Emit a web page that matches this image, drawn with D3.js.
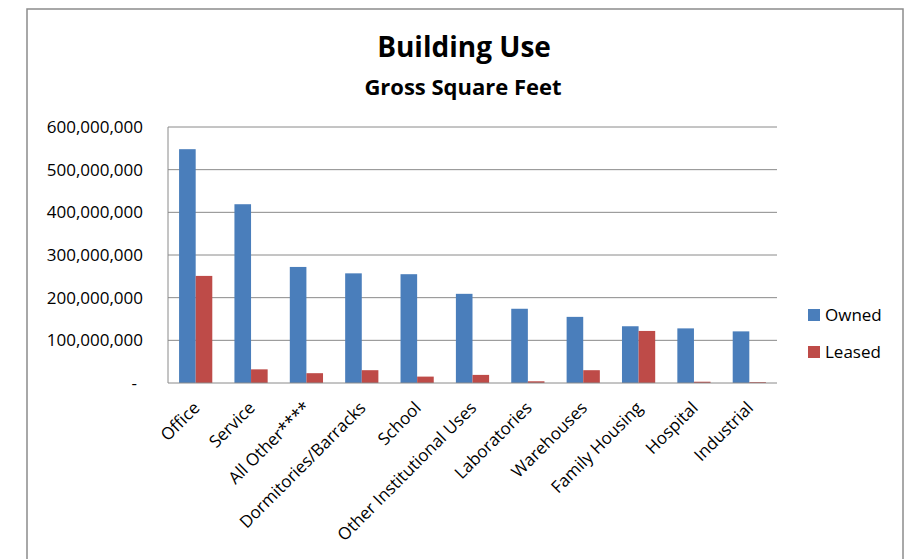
<!DOCTYPE html>
<html>
<head>
<meta charset="utf-8">
<script src="https://cdn.jsdelivr.net/npm/d3@7"></script>
<style>
  body { margin: 0; background: #fff; }
  svg { display: block; font-family: "Open Sans", sans-serif; }
</style>
</head>
<body>
<div id="root"></div>
<script>
// categories and series values (gross square feet)
const categories = ["Office", "Service", "All Other****", "Dormitories/Barracks", "School",
  "Other Institutional Uses", "Laboratories", "Warehouses", "Family Housing", "Hospital", "Industrial"];
const owned = [548e6, 419e6, 272e6, 257e6, 255e6, 209e6, 174e6, 155e6, 133e6, 128e6, 121e6];
const leased = [251e6, 32e6, 23e6, 30e6, 15e6, 19e6, 4e6, 30e6, 122e6, 3e6, 2e6];
const seriesNames = ["Owned", "Leased"];
const yTicks = [0, 100e6, 200e6, 300e6, 400e6, 500e6, 600e6];

const colors = { Owned: "#4a7ebb", Leased: "#be4b48" };

const W = 909, H = 559;
const plot = { left: 168, right: 777, top: 127, bottom: 383 };

const svg = d3.select("#root").append("svg")
    .attr("width", W)
    .attr("height", H);

// outer chart border
svg.append("rect")
    .attr("x", 27).attr("y", 9)
    .attr("width", 876).attr("height", 570)
    .attr("fill", "none")
    .attr("stroke", "#8c8c8c")
    .attr("stroke-width", 1.5);

// titles
svg.append("text")
    .attr("x", 464).attr("y", 57)
    .attr("text-anchor", "middle")
    .attr("font-weight", "bold")
    .attr("font-size", 28)
    .text("Building Use");

svg.append("text")
    .attr("x", 463).attr("y", 95)
    .attr("text-anchor", "middle")
    .attr("font-weight", "bold")
    .attr("font-size", 22)
    .text("Gross Square Feet");

// scales
const x = d3.scaleBand()
    .domain(categories)
    .range([plot.left, plot.right])
    .paddingInner(0.4)
    .paddingOuter(0.2);

const xInner = d3.scaleBand()
    .domain(seriesNames)
    .range([0, x.bandwidth()]);

const y = d3.scaleLinear()
    .domain([0, 600e6])
    .range([plot.bottom, plot.top]);

// gridlines
svg.append("g")
    .selectAll("line")
    .data(yTicks.filter(d => d > 0))
    .join("line")
    .attr("x1", plot.left).attr("x2", plot.right)
    .attr("y1", d => y(d)).attr("y2", d => y(d))
    .attr("stroke", "#8a8a8a")
    .attr("stroke-width", 1);

// y axis labels
const fmt = d3.format(",");
const yAxis = d3.axisLeft(y)
    .tickValues(yTicks)
    .tickSize(0)
    .tickPadding(25)
    .tickFormat(d => d === 0 ? "-" : fmt(d));

const yG = svg.append("g")
    .attr("transform", `translate(${plot.left},0)`)
    .call(yAxis);
yG.select(".domain").remove();
yG.selectAll("text")
    .attr("font-family", "Open Sans, sans-serif")
    .attr("font-size", 17)
    .attr("fill", "#000")
    .attr("dx", d => d === 0 ? -6 : 0);

// bars
const rows = categories.map((c, i) => ({ cat: c, Owned: owned[i], Leased: leased[i] }));

svg.append("g")
    .selectAll("g")
    .data(rows)
    .join("g")
    .attr("transform", d => `translate(${x(d.cat)},0)`)
    .selectAll("rect")
    .data(d => seriesNames.map(s => ({ s, v: d[s] })))
    .join("rect")
    .attr("x", d => xInner(d.s))
    .attr("width", xInner.bandwidth())
    .attr("y", d => y(d.v))
    .attr("height", d => y(0) - y(d.v))
    .attr("fill", d => colors[d.s]);

// axis lines
svg.append("line")
    .attr("x1", plot.left).attr("x2", plot.left)
    .attr("y1", plot.top).attr("y2", plot.bottom)
    .attr("stroke", "#8a8a8a");
svg.append("line")
    .attr("x1", plot.left).attr("x2", plot.right)
    .attr("y1", plot.bottom).attr("y2", plot.bottom)
    .attr("stroke", "#8a8a8a");

// x labels, rotated
svg.append("g")
    .selectAll("text")
    .data(categories)
    .join("text")
    .attr("transform", d => `translate(${x(d) + x.bandwidth() / 2 + 5},409) rotate(-45)`)
    .attr("text-anchor", "end")
    .attr("font-size", 17)
    .text(d => d);

// legend
const legend = svg.append("g")
    .selectAll("g")
    .data(seriesNames)
    .join("g")
    .attr("transform", (d, i) => `translate(808,${315 + i * 37})`);

legend.append("rect")
    .attr("x", 0).attr("y", -6)
    .attr("width", 12).attr("height", 12)
    .attr("fill", d => colors[d]);

legend.append("text")
    .attr("x", 17).attr("y", 6)
    .attr("font-size", 17)
    .text(d => d);
</script>
</body>
</html>
